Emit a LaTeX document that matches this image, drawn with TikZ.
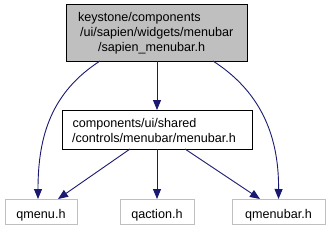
\documentclass[tikz,border=0pt]{standalone}
\usepackage{fontspec}
\setmainfont{Liberation Sans}
\usetikzlibrary{arrows.meta,calc}
\definecolor{edgeblue}{HTML}{191970}
\definecolor{grey75}{HTML}{BFBFBF}
\begin{document}
\begin{tikzpicture}[x=1pt,y=-1pt,
  every node/.style={inner sep=0pt,outer sep=0pt},
  box/.style={draw=black,line width=1pt,rectangle},
  mainbox/.style={box,fill=grey75},
  extbox/.style={draw=grey75,line width=1pt,rectangle,fill=white},
  lbl/.style={anchor=base west,font=\fontsize{12.6}{15}\selectfont},
  clbl/.style={font=\fontsize{12.6}{15}\selectfont},
  edge/.style={draw=edgeblue,line width=0.9pt,-{Triangle[length=10pt,width=8pt]}}]
\useasboundingbox (0,0) rectangle (328,231);
% nodes
\node[mainbox,minimum width=181pt,minimum height=57pt] (top) at (157,32.5) {};
\node[lbl] (t1) at (78,21) {keystone/components};
\node[lbl] (t2) at (80,36) {/ui/sapien/widgets/menubar};
\node[lbl] (t3) at (98,51) {/sapien\_menubar.h};
\node[box,fill=white,minimum width=190pt,minimum height=39pt] (mid) at (157,129.5) {};
\node[lbl] (m1) at (72.5,127) {components/ui/shared};
\node[lbl] (m2) at (72,142) {/controls/menubar/menubar.h};
\node[extbox,minimum width=72pt,minimum height=25pt] (qmenu) at (41,211.5) {};
\node[clbl,anchor=base] at (41,218) {qmenu.h};
\node[extbox,minimum width=74pt,minimum height=25pt] (qaction) at (157,211.5) {};
\node[clbl,anchor=base] at (157,218) {qaction.h};
\node[extbox,minimum width=93pt,minimum height=25pt] (qmenubar) at (278.5,211.5) {};
\node[clbl,anchor=base] at (278.5,218) {qmenubar.h};
% edges
\draw[edge] ([xshift=-57pt]top.south) .. controls (52,92) and (38,135) .. ([xshift=-3pt]qmenu.north);
\draw[edge] (top.south) -- (mid.north);
\draw[edge] ([xshift=56pt]top.south) .. controls (258,90) and (279,132) .. (qmenubar.north);
\draw[edge] ([xshift=-27pt]mid.south) -- ([xshift=17pt]qmenu.north);
\draw[edge] (mid.south) -- (qaction.north);
\draw[edge] ([xshift=28pt]mid.south) -- ([xshift=-18.5pt]qmenubar.north);
\end{tikzpicture}
\end{document}
